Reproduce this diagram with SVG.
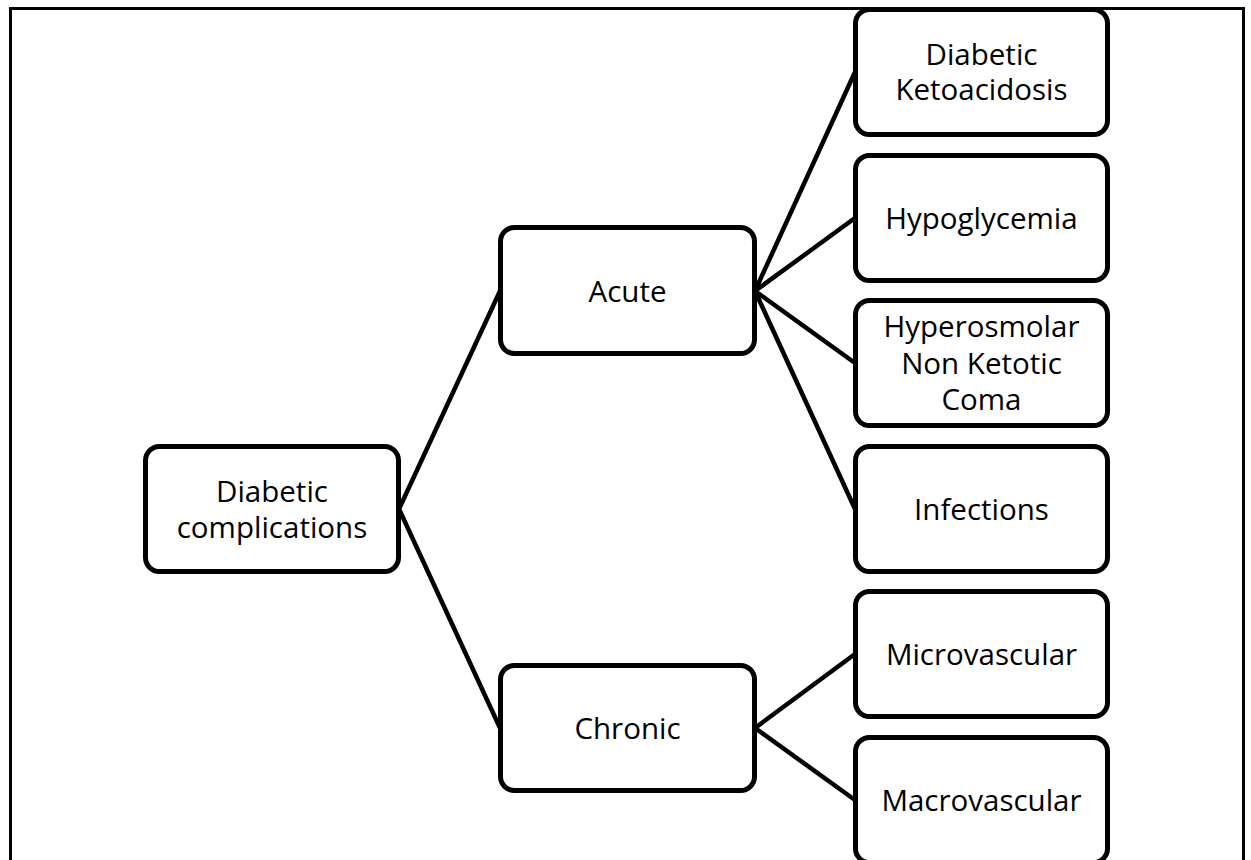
<svg xmlns="http://www.w3.org/2000/svg" width="1251" height="860" viewBox="0 0 1251 860">
<style>
.box{fill:#fff;stroke:#000;stroke-width:5}
.lbl{font-family:"Open Sans","Liberation Sans",sans-serif;font-size:29.5px;fill:#000;text-anchor:middle}
.con line{stroke:#000;stroke-width:4.5;stroke-linecap:round}
</style>
<rect width="1251" height="860" fill="#fff"/>
<rect id="frame" x="10.5" y="8.5" width="1233" height="900" fill="none" stroke="#000" stroke-width="3"/>
<g id="connectors" class="con">
<line x1="399" y1="509" x2="500" y2="291"/>
<line x1="399" y1="509" x2="500" y2="728"/>
<line x1="755" y1="291" x2="855" y2="72"/>
<line x1="755" y1="291" x2="855" y2="218"/>
<line x1="755" y1="291" x2="855" y2="363"/>
<line x1="755" y1="291" x2="855" y2="509"/>
<line x1="755" y1="728" x2="855" y2="654"/>
<line x1="755" y1="728" x2="855" y2="800"/>
</g>
<g id="n-diabetic-complications">
<rect class="box" x="145.5" y="446.5" width="253" height="125" rx="14"/>
<text class="lbl" x="272" y="501.5">Diabetic</text>
<text class="lbl" x="272" y="537.5">complications</text>
</g>
<g id="n-acute">
<rect class="box" x="500.5" y="227.5" width="254" height="126" rx="14"/>
<text class="lbl" x="627.5" y="301.5">Acute</text>
</g>
<g id="n-chronic">
<rect class="box" x="500.5" y="665.5" width="254" height="125" rx="14"/>
<text class="lbl" x="627.5" y="738.5">Chronic</text>
</g>
<g id="n-dka">
<rect class="box" x="855.5" y="9.5" width="252" height="125" rx="14"/>
<text class="lbl" x="981.5" y="65">Diabetic</text>
<text class="lbl" x="981.5" y="100">Ketoacidosis</text>
</g>
<g id="n-hypoglycemia">
<rect class="box" x="855.5" y="155.5" width="252" height="125" rx="14"/>
<text class="lbl" x="981.5" y="228.5">Hypoglycemia</text>
</g>
<g id="n-hhnk">
<rect class="box" x="855.5" y="300.5" width="252" height="125" rx="14"/>
<text class="lbl" x="981.5" y="337">Hyperosmolar</text>
<text class="lbl" x="981.5" y="373.5">Non Ketotic</text>
<text class="lbl" x="981.5" y="410">Coma</text>
</g>
<g id="n-infections">
<rect class="box" x="855.5" y="446.5" width="252" height="125" rx="14"/>
<text class="lbl" x="981.5" y="519.5">Infections</text>
</g>
<g id="n-microvascular">
<rect class="box" x="855.5" y="591.5" width="252" height="125" rx="14"/>
<text class="lbl" x="981.5" y="664.5">Microvascular</text>
</g>
<g id="n-macrovascular">
<rect class="box" x="855.5" y="737.5" width="252" height="125" rx="14"/>
<text class="lbl" x="981.5" y="810.5">Macrovascular</text>
</g>
</svg>
